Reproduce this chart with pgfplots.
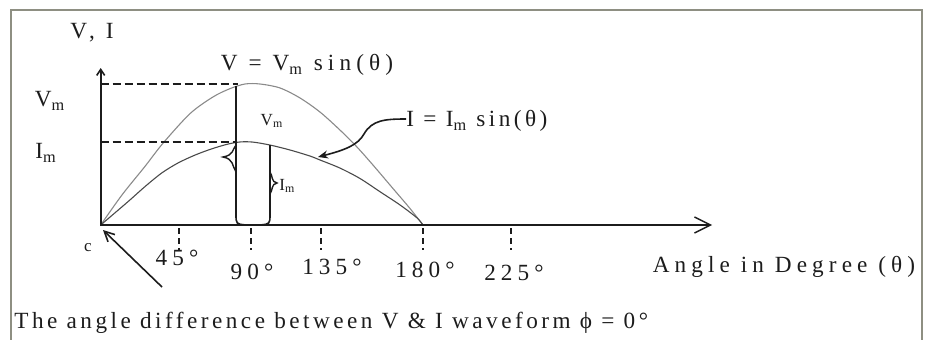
\documentclass[border=0pt]{standalone}
\usepackage{pgfplots}
\pgfplotsset{compat=1.18}
\usepackage{fontspec}
\setmainfont{Liberation Serif}[LetterSpace=22]
\newfontfamily\narrowserif{Liberation Serif}[LetterSpace=15]
\usetikzlibrary{arrows.meta}
\definecolor{frameC}{HTML}{8E8F82}
\definecolor{vCurve}{HTML}{8A8A8A}
\definecolor{iCurve}{HTML}{4A4A4A}
\definecolor{ink}{HTML}{1C1C1C}

% voltage waveform: angle (deg) vs amplitude (V/Vm)
\pgfplotstableread{
x y
0 0
12.0 0.215
24.7 0.415
34.8 0.580
49.9 0.790
62.7 0.908
72.2 0.967
80.6 1.0
89.0 1.0
100.1 0.972
111.3 0.901
122.5 0.801
133.6 0.674
143.0 0.555
152.1 0.425
163.3 0.258
172.7 0.118
180 0
}\voltage
% current waveform (I/Vm)
\pgfplotstableread{
x y
0 0
15.2 0.165
24.7 0.272
34.1 0.369
43.2 0.440
52.7 0.496
62.0 0.540
71.1 0.574
78.0 0.589
85.0 0.588
94.6 0.567
105.7 0.532
116.9 0.489
122.5 0.461
133.6 0.404
144.8 0.330
156.0 0.236
167.2 0.142
176.7 0.050
180 0
}\current

\newcommand\lbl{\fontsize{11.6}{13.5}\selectfont}
\newcommand\sml{\fontsize{8.5}{10}\selectfont}

\begin{document}
\begin{tikzpicture}[color=ink]
\useasboundingbox (0,0) rectangle (462.5pt,169.5pt);
\begin{axis}[at={(0,0)}, anchor=south west, scale only axis,
  width=462.5pt, height=169.5pt,
  xmin=-56.24, xmax=460.4, ymin=-0.8085, ymax=1.5957,
  hide axis, clip=false]
\addplot[smooth, vCurve, line width=0.55pt] table {\voltage};
\addplot[smooth, iCurve, line width=0.55pt] table {\current};
\addplot[ink, line width=0.6pt, dash pattern=on 4pt off 2pt] coordinates {(0,1) (76.7,1)};
\addplot[ink, line width=0.6pt, dash pattern=on 4pt off 2pt] coordinates {(0,0.589) (75.0,0.589)};
\end{axis}

\begin{scope}[x=0.5pt, y=-0.5pt, shift={(0,169.5pt)}]
% frame
\draw[frameC, line width=1pt] (11,360) -- (11,9.5) -- (922,9.5) -- (922,360);
% axes
\draw[line width=0.8pt, -{Straight Barb[length=3pt,width=4pt]}] (100.7,226) -- (100.7,68);
\draw[line width=1.3pt, -{Straight Barb[length=8pt,width=8pt,line width=0.7pt]}] (100,225) -- (712,225);
% ticks
\foreach \t in {179,251,321,423,511}
  \draw[line width=0.6pt, dash pattern=on 3pt off 2pt] (\t,228) -- (\t,250);
% brackets
\draw[line width=0.8pt] (236,86) -- (236,214) .. controls (236,224) .. (246,225) -- (260,225) .. controls (270,224) .. (270,214) -- (270,145);
\draw[line width=0.7pt] (236,145) .. controls (232,150) and (234,155) .. (223,157) .. controls (234,159) and (232,166) .. (236,172);
\draw[line width=0.7pt] (270,172) .. controls (273,176) and (271,182) .. (277,183) .. controls (271,184) and (273,190) .. (270,194);
% pointer to the current curve
\draw[line width=0.8pt, -{Stealth[length=5pt,width=4pt]}] (406,119) .. controls (385,119) and (372,120) .. (364,134) .. controls (358,145) and (345,150) .. (318,157);
% pointer to the origin
\draw[line width=0.8pt, -{Straight Barb[length=5pt,width=5pt]}] (162,287) -- (103,230);

\begin{scope}[every node/.style={inner sep=0pt, font=\lbl}]
\node at (92,33) {V, I};
\node at (50,101) {V\textsubscript{m}};
\node at (46,153) {I\textsubscript{m}};
\node at (307,65) {V = V\textsubscript{m} sin(θ)};
\node[font=\sml] at (272,121) {V\textsubscript{m}};
\node[font=\sml, anchor=west] at (279,186) {I\textsubscript{m}};
\node[font=\lbl\narrowserif, anchor=west] at (406,121) {I = I\textsubscript{m} sin(θ)};
\node[font=\sml] at (88,248) {c};
\node at (177,258) {45°};
\node at (252,272) {90°};
\node at (332,267) {135°};
\node at (425,270) {180°};
\node at (514,273) {225°};
\node at (784,267) {Angle in Degree (θ)};
\node[font=\lbl\narrowserif, anchor=west] at (14,323) {The angle difference between V \& I waveform ϕ = 0°};
\end{scope}
\end{scope}
\end{tikzpicture}
\end{document}
